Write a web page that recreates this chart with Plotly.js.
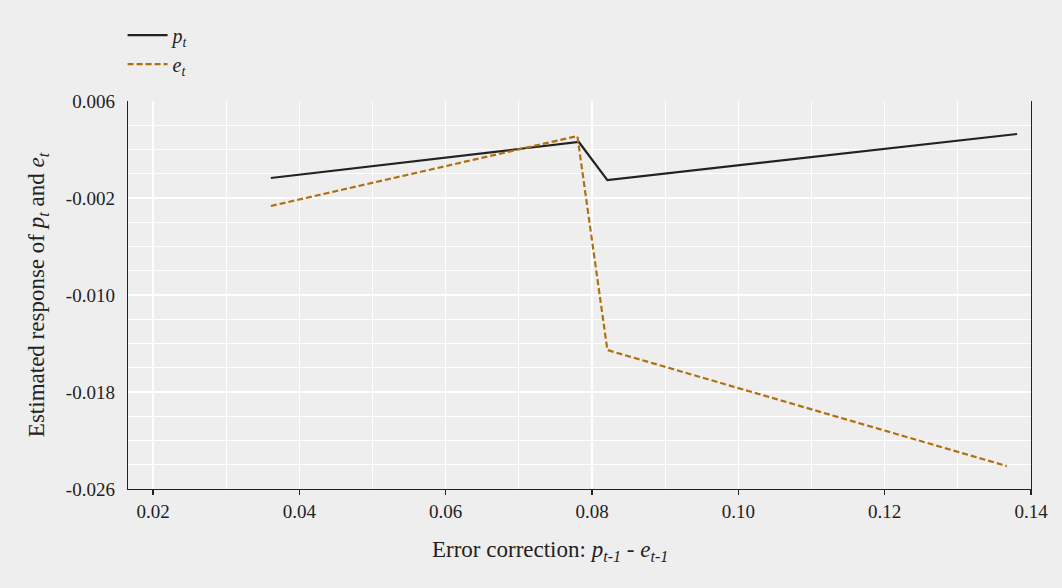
<!DOCTYPE html>
<html>
<head>
<meta charset="utf-8">
<script src="https://cdn.plot.ly/plotly-3.0.1.min.js"></script>
<style>html,body{margin:0;padding:0;background:#eeeeee;}#chart{width:1062px;height:588px;}</style>
</head>
<body>
<div id="chart"></div>
<script>
// Data
const pX = [0.0361, 0.0782, 0.0821, 0.1381];
const pY = [-0.00035, 0.00262, -0.00052, 0.00328];
const eX = [0.0361, 0.0780, 0.0821, 0.1367];
const eY = [-0.00266, 0.00311, -0.01454, -0.02411];
const xTickVals = [0.02, 0.04, 0.06, 0.08, 0.10, 0.12, 0.14];
const xTickText = ["0.02", "0.04", "0.06", "0.08", "0.10", "0.12", "0.14"];
const yTickVals = [0.006, -0.002, -0.010, -0.018, -0.026];
const yTickText = ["0.006", "-0.002", "-0.010", "-0.018", "-0.026"];
const xTitle = 'Error correction: <i>p<sub>t-1</sub></i> - <i>e<sub>t-1</sub></i>';
const yTitle = 'Estimated response of <i>p<sub>t</sub></i> and <i>e<sub>t</sub></i>';

const serif = "Liberation Serif";

const traces = [
  {x: pX, y: pY, type: 'scatter', mode: 'lines', name: '<i>p<sub>t</sub></i>',
   line: {color: '#222222', width: 2.2}},
  {x: eX, y: eY, type: 'scatter', mode: 'lines', name: '<i>e<sub>t</sub></i>',
   line: {color: '#b07010', width: 2.2, dash: '6px,3px'}}
];

const layout = {
  width: 1062, height: 588,
  paper_bgcolor: '#eeeeee', plot_bgcolor: '#eeeeee',
  margin: {l: 128, r: 31, t: 101, b: 99},
  font: {family: serif, color: '#222222', size: 19},
  showlegend: true,
  legend: {x: -0.006, y: 1.22, xanchor: 'left', yanchor: 'top',
    bgcolor: 'rgba(0,0,0,0)', font: {family: serif, size: 20, color: '#222'},
    itemwidth: 40, tracegroupgap: 0},
  xaxis: {
    range: [0.01658, 0.14], tickmode: 'array', tickvals: xTickVals, ticktext: xTickText,
    showgrid: true, gridcolor: '#ffffff', gridwidth: 1.2,
    minor: {dtick: 0.01, tick0: 0, showgrid: true, gridcolor: '#ffffff', gridwidth: 1.2},
    showline: true, linecolor: '#222222', linewidth: 1.3, mirror: false,
    ticks: 'outside', ticklen: 5, tickcolor: '#222222', tickwidth: 1.3,
    zeroline: false, tickfont: {family: serif, size: 19, color: '#222'}
  },
  yaxis: {
    range: [-0.026, 0.006], tickmode: 'array', tickvals: yTickVals, ticktext: yTickText,
    showgrid: true, gridcolor: '#ffffff', gridwidth: 1.2,
    minor: {dtick: 0.002, tick0: 0.006, showgrid: true, gridcolor: '#ffffff', gridwidth: 1.2},
    showline: true, linecolor: '#222222', linewidth: 1.3, mirror: true,
    ticks: '', ticklabelstandoff: 8, zeroline: false, tickfont: {family: serif, size: 19, color: '#222'},
    title: {text: yTitle, font: {family: serif, size: 23, color: '#222'}, standoff: 14}
  },
  annotations: [{
    text: xTitle, xref: 'paper', yref: 'paper', x: 0.467, y: -0.16,
    xanchor: 'center', yanchor: 'middle', showarrow: false,
    font: {family: serif, size: 23, color: '#222'}
  }]
};

Plotly.newPlot('chart', traces, layout, {displayModeBar: false, staticPlot: true});
</script>
</body>
</html>
